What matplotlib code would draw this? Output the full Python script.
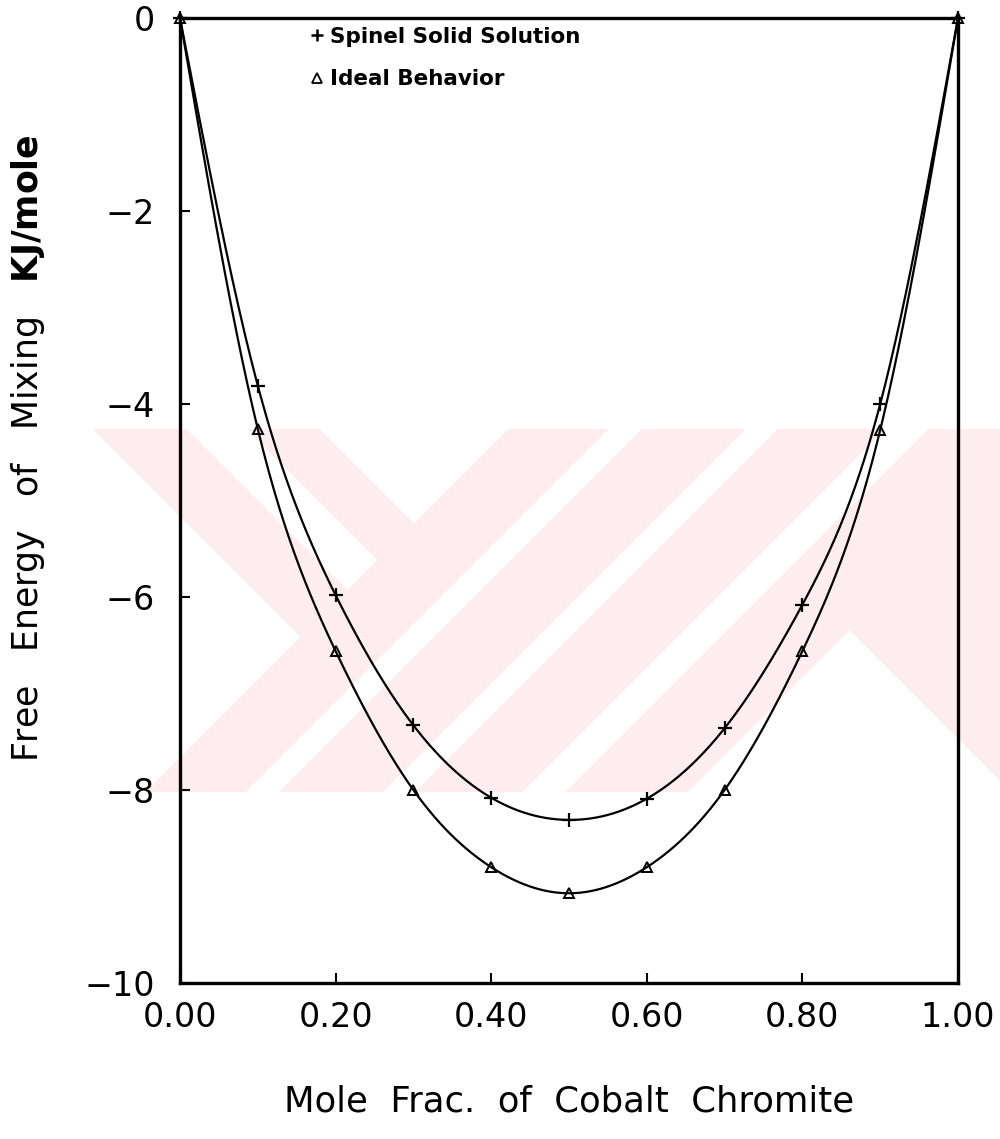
import numpy as np
import matplotlib
matplotlib.use("Agg")
import matplotlib.pyplot as plt
from matplotlib.lines import Line2D

# Mole fraction of cobalt chromite and free energy of mixing (kJ/mole)
mole_frac = [0.0, 0.1, 0.2, 0.3, 0.4, 0.5, 0.6, 0.7, 0.8, 0.9, 1.0]
spinel_ss = [0.0, -3.81, -5.98, -7.33, -8.08, -8.31, -8.09, -7.36, -6.08, -4.00, 0.0]
ideal_mix = [0.0, -4.26, -6.56, -8.00, -8.80, -9.07, -8.80, -8.00, -6.56, -4.27, 0.0]

x_ticks = [0.0, 0.2, 0.4, 0.6, 0.8, 1.0]
x_ticklabels = ["0.00", "0.20", "0.40", "0.60", "0.80", "1.00"]
y_ticks = [0, -2, -4, -6, -8, -10]
y_ticklabels = ["0", "\u22122", "\u22124", "\u22126", "\u22128", "\u221210"]

series_labels = ["Spinel Solid Solution", "Ideal Behavior"]


def natural_spline(x, y, xs):
    """Natural cubic spline through (x, y), evaluated at xs."""
    x = np.asarray(x, float)
    y = np.asarray(y, float)
    n = len(x)
    h = np.diff(x)
    A = np.zeros((n, n))
    b = np.zeros(n)
    A[0, 0] = A[-1, -1] = 1.0
    for i in range(1, n - 1):
        A[i, i - 1] = h[i - 1]
        A[i, i] = 2 * (h[i - 1] + h[i])
        A[i, i + 1] = h[i]
        b[i] = 3 * ((y[i + 1] - y[i]) / h[i] - (y[i] - y[i - 1]) / h[i - 1])
    c = np.linalg.solve(A, b)
    bb = (y[1:] - y[:-1]) / h - h * (2 * c[:-1] + c[1:]) / 3
    d = (c[1:] - c[:-1]) / (3 * h)
    idx = np.clip(np.searchsorted(x, xs) - 1, 0, n - 2)
    t = xs - x[idx]
    return y[idx] + bb[idx] * t + c[idx] * t ** 2 + d[idx] * t ** 3


W, H = 1000, 1139
fig = plt.figure(figsize=(W / 100, H / 100), dpi=100)
fig.patch.set_facecolor("white")

# Faint pink background emblem
bg = fig.add_axes([0, 0, 1, 1], zorder=0)
px, py = np.meshgrid(np.arange(W) + 0.5, np.arange(H) + 0.5)
c = px - py
d = px + py
band = (py >= 429) & (py <= 792) & (px >= 92)
left_part = d < 938
pink_left = left_part & (((c >= -336) & (c < -242)) | ((c >= -182) & (c < -109)))
gaps = ((d >= 1038) & (d < 1071)) | ((d >= 1175) & (d < 1207)) | ((d >= 1315) & (d < 1358))
notch = (d >= 1480) & (c < 220)
pink_right = (~left_part) & (~gaps) & (~notch)
mask = band & (pink_left | pink_right)
rgba = np.ones((H, W, 4))
rgba[..., 0] = 253 / 255
rgba[..., 1] = 236 / 255
rgba[..., 2] = 240 / 255
rgba[..., 3] = mask.astype(float)
bg.imshow(rgba, extent=(0, W, H, 0), interpolation="bilinear", aspect="auto")
bg.set_xlim(0, W)
bg.set_ylim(H, 0)
bg.axis("off")

ax = fig.add_axes([0.180, 1 - 983 / H, 0.778, (983 - 18) / H], zorder=1)
ax.set_facecolor("none")

xs = np.linspace(0, 1, 600)
ax.plot(xs, natural_spline(mole_frac, spinel_ss, xs), color="black", lw=1.6, zorder=3)
ax.plot(xs, natural_spline(mole_frac, ideal_mix, xs), color="black", lw=1.6, zorder=3)
ax.plot(mole_frac, spinel_ss, ls="none", marker="+", ms=10, mew=1.6,
        color="black", clip_on=False, zorder=4)
ax.plot(mole_frac, ideal_mix, ls="none", marker="^", ms=7, mew=1.4,
        mfc="none", mec="black", clip_on=False, zorder=4)

ax.set_xlim(0, 1)
ax.set_ylim(-10, 0)
ax.set_xticks(x_ticks)
ax.set_xticklabels(x_ticklabels)
ax.set_yticks(y_ticks)
ax.set_yticklabels(y_ticklabels)
for s in ax.spines.values():
    s.set_linewidth(2.4)
ax.tick_params(axis="both", direction="in", length=7, width=1.5,
               labelsize=24, colors="black")
ax.tick_params(axis="x", pad=13)
ax.tick_params(axis="y", pad=18)

ax.set_xlabel("Mole  Frac.  of  Cobalt  Chromite", fontsize=25.5, labelpad=36)
ax.set_ylabel(r"Free   Energy   of   Mixing   $\mathbf{KJ/mole}$", fontsize=25)
ax.yaxis.set_label_coords(-0.171, 0.554)

handles = [
    Line2D([], [], ls="none", marker="+", ms=9, mew=1.8, color="black"),
    Line2D([], [], ls="none", marker="^", ms=6.5, mew=1.3, mfc="none", mec="black"),
]
ax.legend(handles, series_labels, loc="upper left", bbox_to_anchor=(0.158, 1.0),
          frameon=False, prop={"size": 15.5, "weight": "bold"},
          handlelength=0.5, handletextpad=0.35, labelspacing=1.05, borderaxespad=0)

fig.savefig("out.png", dpi=100, facecolor="white")
